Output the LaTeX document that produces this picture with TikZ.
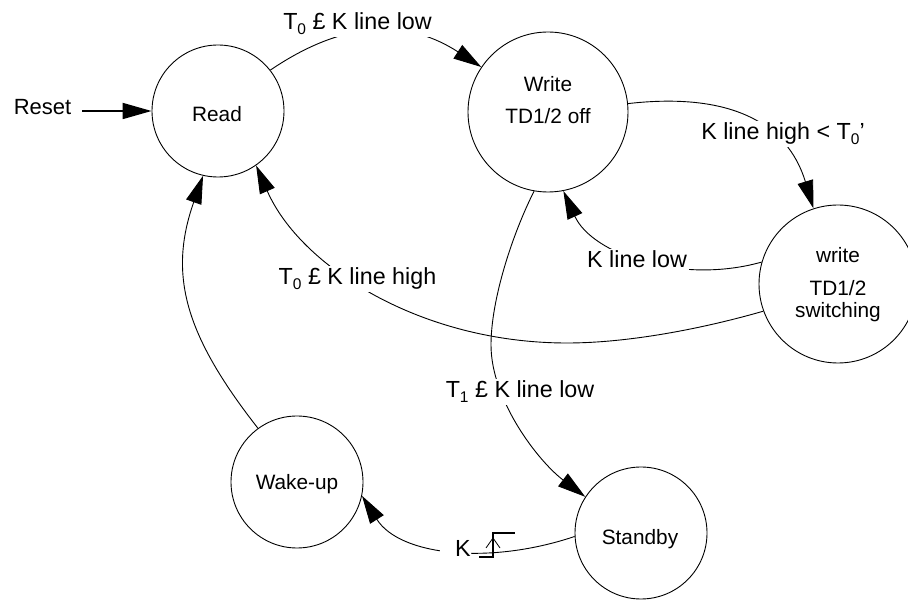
\documentclass[tikz,border=0pt]{standalone}
\usepackage{fontspec}
\setmainfont{Liberation Sans}
\usetikzlibrary{arrows.meta}
\newcommand\sbs[1]{\raisebox{-5pt}{\fontsize{15.5}{15.5}\selectfont #1}}
\begin{document}
\begin{tikzpicture}[x=1pt,y=1pt,
  state/.style={circle,draw,line width=0.9pt,inner sep=0pt},
  txt/.style={anchor=base,inner sep=0pt,font=\fontsize{20.8}{25}\selectfont},
  lbl/.style={anchor=base,fill=white,inner xsep=2pt,inner ysep=2pt,font=\fontsize{23.3}{28}\selectfont},
  edge/.style={line width=0.9pt,-{Triangle[length=28pt,width=16pt]}},
  stepline/.style={line width=1.3pt}
]
\useasboundingbox (0,0) rectangle (908,600);
% states
\node[state,minimum size=132pt] (read) at (218,489) {};
\node[state,minimum size=160pt] (write) at (548,488) {};
\node[state,minimum size=158pt] (sw) at (838,316) {};
\node[state,minimum size=132pt] (standby) at (641,67) {};
\node[state,minimum size=132pt] (wake) at (297,118) {};
% state texts
\node[txt] (readT) at (217,478) {Read};
\node[txt] (writeTa) at (548,508) {Write};
\node[txt] (writeTb) at (548,476) {TD1/2 off};
\node[txt] (swTa) at (838,337) {write};
\node[txt] (swTb) at (838,304) {TD1/2};
\node[txt] (swTc) at (838,282) {switching};
\node[txt] (wakeT) at (297,110) {Wake-up};
\node[txt] (standbyT) at (640,56) {Standby};
\node[txt,font=\fontsize{22}{26}\selectfont] (resetT) at (42.5,485) {Reset};
% reset arrow
\coordinate (rs) at (82,489);
\draw[line width=1.8pt,-{Triangle[length=29pt,width=16pt]}] (rs) -- (read.west);
% transitions
\draw[edge] (read.38) .. controls (350,584) and (412,578) .. (write.146);
\draw[edge] (write.6) .. controls (730,508) and (787.5,477.4) .. (sw.108);
\draw[edge] (sw.164) .. controls (680,315) and (592,346) .. (write.-79);
\draw[edge] (sw.200) .. controls (705,272) and (630,257) .. (567,257) .. controls (420,257) and (300,334) .. (read.-55);
\draw[edge] (write.-100) .. controls (512,365) and (491,300) .. (491,255) .. controls (491,200) and (538,139) .. (standby.147);
\draw[edge] (standby.183) .. controls (490,35) and (400,44) .. (wake.-12);
\draw[edge] (wake.126) .. controls (185,265) and (168,325) .. (read.257);
% labels
\node[lbl] (l1) at (357.5,570) {T\sbs{0} £ K line low};
\node[lbl] (l2) at (783,460) {K line high < T\sbs{0}’};
\node[lbl,anchor=base west,text depth=6pt] (l3) at (585,332) {K line low\hspace{15pt}};
\node[lbl] (l4) at (357.5,315) {T\sbs{0} £ K line high};
\node[lbl] (l5) at (520,202) {T\sbs{1} £ K line low};
\node[lbl,anchor=base west,inner xsep=0pt,inner ysep=4pt] (l6) at (440,43) {\hspace{15pt}K\hspace{46pt}};
\draw[stepline] ([shift={(39,0)}]l6.base west) -- ++(14,0) -- ++(0,24) -- ++(22,0);
\draw[line width=0.8pt] ([shift={(46,9)}]l6.base west) -- ++(7,10) -- ++(7,-10);
\end{tikzpicture}
\end{document}
